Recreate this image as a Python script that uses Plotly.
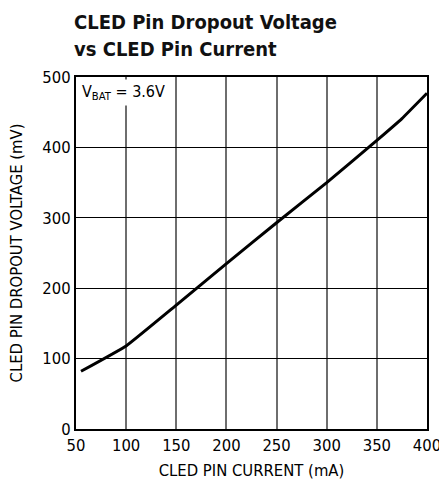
import plotly.graph_objects as go

current_ma = [55, 100, 150, 200, 250, 300, 350, 375, 400]
dropout_mv = [82, 118, 176, 235, 293, 350, 410, 441, 477]
x_ticks = [50, 100, 150, 200, 250, 300, 350, 400]
y_ticks = [0, 100, 200, 300, 400, 500]

FONT = "DejaVu Sans Condensed, Roboto, sans-serif"

L, R, T, B = 76, 12, 77, 58
W, H = 439, 487
PW, PH = W - L - R, H - T - B


def px(x):
    return (x - L) / PW


def py(y):
    return (H - B - y) / PH


fig = go.Figure()
fig.add_trace(go.Scatter(x=current_ma, y=dropout_mv, mode="lines",
                         line=dict(color="black", width=3, shape="spline", smoothing=0.3),
                         showlegend=False, hoverinfo="skip"))

fig.update_layout(
    width=W, height=H,
    margin=dict(l=L, r=R, t=T, b=B),
    paper_bgcolor="white", plot_bgcolor="white",
    font=dict(family=FONT, color="black", size=16),
    annotations=[
        dict(text="<b>CLED Pin Dropout Voltage</b>", x=px(72), y=py(8),
             xref="paper", yref="paper", xanchor="left", yanchor="top",
             showarrow=False, font=dict(family=FONT, size=20, color="#111")),
        dict(text="<b>vs CLED Pin Current</b>", x=px(72), y=py(35),
             xref="paper", yref="paper", xanchor="left", yanchor="top",
             showarrow=False, font=dict(family=FONT, size=20, color="#111")),
        dict(text="V<sub>BAT</sub> = 3.6V", x=px(79), y=py(79),
             xref="paper", yref="paper", xanchor="left", yanchor="top",
             showarrow=False, bgcolor="white", borderpad=2,
             font=dict(family=FONT, size=16, color="black")),
    ],
)
fig.update_xaxes(range=[50, 400], tickvals=x_ticks, ticks="", showgrid=True,
                 gridcolor="#6e6e6e", gridwidth=1.5, showline=True, linecolor="black",
                 linewidth=2, mirror=True, zeroline=False, automargin=False,
                 ticklabeloverflow="allow",
                 title=dict(text="CLED PIN CURRENT (mA)", standoff=11,
                            font=dict(family=FONT, size=16.5)),
                 tickfont=dict(family=FONT, size=16.5))
fig.update_yaxes(range=[0, 500], tickvals=y_ticks, ticks="", showgrid=True,
                 gridcolor="black", gridwidth=1, showline=True, linecolor="black",
                 linewidth=2, mirror=True, zeroline=False, automargin=False,
                 ticklabeloverflow="allow",
                 title=dict(text="CLED PIN DROPOUT VOLTAGE (mV)", standoff=16,
                            font=dict(family=FONT, size=16.5)),
                 tickfont=dict(family=FONT, size=16.5))

fig.write_html("out.html", config={"displayModeBar": False},
               post_script="document.body.style.margin='0';document.body.style.overflow='hidden';")
